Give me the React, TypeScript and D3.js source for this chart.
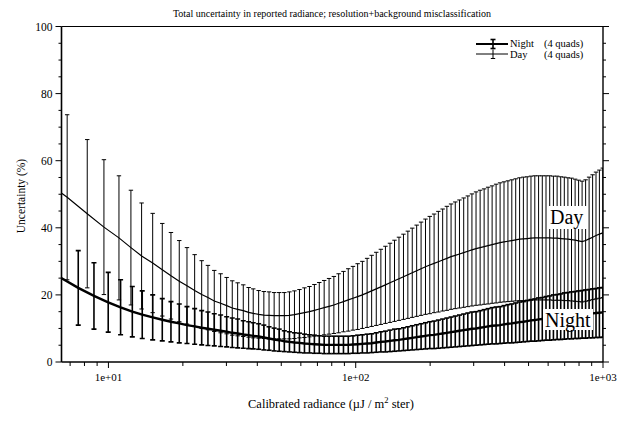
import React from "react";
import * as d3 from "d3";

const W = 623;
const H = 423;
const FONT = "Liberation Serif, DejaVu Serif, serif";

// Radiance sample points (µJ / m² ster). The first few Day and Night points are
// staggered; from ~15 onward both series share the same grid.
const dayLeadX = [5.42, 6.81, 8.21, 9.59, 11.03, 12.33, 13.62];
const nightLeadX = [6.32, 7.55, 8.74, 9.98, 11.2, 12.49, 13.7];
const sharedX = [
  15.1, 16.51, 17.9, 19.34, 20.78, 22.32, 23.83, 25.26, 26.79, 28.43, 30.07, 31.68, 33.31, 35.1, 36.9, 38.51, 40.5,
  42.51, 44.62, 46.79, 49.06, 51.44, 53.95, 56.53, 59.23, 62.05, 65.01,
  68.06, 71.23, 74.55, 78.03, 81.59, 85.31, 89.23, 93.3, 97.47, 101.8,
  106.4, 111.2, 116.0, 121.1, 126.4, 131.9, 137.6, 143.5, 149.6, 156.0,
  162.5, 169.3, 176.4, 183.8, 191.5, 199.3, 207.5, 215.9, 224.7, 233.7,
  243.0, 252.7, 262.8, 273.3, 284.0, 295.1, 306.6, 318.5, 330.6, 343.1,
  356.1, 369.6, 383.6, 397.8, 412.6, 427.8, 443.6, 459.9, 476.5, 493.6,
  511.4, 529.9, 548.9, 568.2, 588.2, 608.8, 630.2, 652.3, 674.5, 697.5,
  721.2, 745.8, 771.3, 796.8, 823.2, 850.6, 878.6, 907.8, 937.0, 967.0, 998.0,
];

// Day (4 quads): uncertainty (%) and its error half-width
const dayValues = [
  54.5, 49.1, 44.2, 40.2, 37.0, 34.1, 31.6,
  29.5, 27.5, 25.7, 24.1, 22.7, 21.3, 20.1, 19.2, 18.2, 17.5, 16.8, 16.1, 15.7, 15.3, 14.8, 14.5, 14.2,
  14.0, 13.9, 13.8, 13.8, 13.8, 13.9, 14.1, 14.4, 14.7, 15.0,
  15.4, 15.8, 16.2, 16.6, 17.0, 17.5, 18.0, 18.5, 19.0, 19.5,
  20.0, 20.6, 21.2, 21.8, 22.4, 23.0, 23.6, 24.2, 24.8, 25.4,
  26.0, 26.6, 27.2, 27.8, 28.4, 28.9, 29.4, 29.9, 30.4, 30.9,
  31.4, 31.8, 32.2, 32.6, 33.0, 33.4, 33.8, 34.1, 34.4, 34.7,
  35.0, 35.3, 35.6, 35.8, 36.0, 36.2, 36.4, 36.6, 36.7, 36.8,
  36.9, 37.0, 37.0, 37.0, 37.0, 37.0, 36.9, 36.9, 36.8, 36.7,
  36.6, 36.5, 36.3, 36.1, 35.9, 36.2, 36.7, 37.2, 37.7, 38.1, 38.5,
];
const dayErrors = [
  27.3, 24.6, 22.1, 20.1, 18.5, 17.1, 15.8,
  14.8, 13.8, 12.9, 12.1, 11.4, 10.7, 10.1, 9.6, 9.1, 8.8, 8.4, 8.1, 7.9, 7.7, 7.4, 7.3, 7.1,
  7.0, 7.0, 6.9, 6.9, 6.9, 7.0, 7.1, 7.2, 7.4, 7.5,
  7.7, 7.9, 8.1, 8.3, 8.5, 8.8, 9.0, 9.3, 9.5, 9.8,
  10.0, 10.3, 10.6, 10.9, 11.2, 11.5, 11.8, 12.1, 12.4, 12.7,
  13.0, 13.3, 13.6, 13.9, 14.2, 14.5, 14.7, 15.0, 15.2, 15.5,
  15.7, 15.9, 16.1, 16.3, 16.5, 16.7, 16.9, 17.1, 17.2, 17.4,
  17.5, 17.7, 17.8, 17.9, 18.0, 18.1, 18.2, 18.3, 18.4, 18.4,
  18.5, 18.5, 18.5, 18.5, 18.5, 18.5, 18.5, 18.5, 18.4, 18.4,
  18.3, 18.3, 18.2, 18.1, 18.0, 18.1, 18.4, 18.6, 18.9, 19.1, 19.3,
];

// Night (4 quads): uncertainty (%) and its error half-width
const nightValues = [
  25.4, 22.1, 19.7, 17.8, 16.3, 15.0, 14.1,
  13.3, 12.6, 12.0, 11.5, 11.0, 10.6, 10.2, 9.9, 9.6, 9.3, 9.0, 8.7, 8.5, 8.2, 8.0, 7.8, 7.6,
  7.3, 7.0, 6.7, 6.5, 6.2, 6.0, 5.8, 5.7, 5.5, 5.4,
  5.3, 5.2, 5.1, 5.1, 5.1, 5.1, 5.1, 5.1, 5.2, 5.3,
  5.4, 5.5, 5.6, 5.8, 6.0, 6.1, 6.3, 6.5, 6.6, 6.8,
  7.0, 7.2, 7.4, 7.6, 7.8, 8.0, 8.1, 8.3, 8.5, 8.7,
  8.9, 9.1, 9.3, 9.5, 9.7, 9.9, 10.0, 10.2, 10.4, 10.6,
  10.8, 10.9, 11.0, 11.2, 11.4, 11.5, 11.7, 11.9, 12.0, 12.2,
  12.4, 12.5, 12.7, 12.8, 13.0, 13.1, 13.3, 13.4, 13.5, 13.7,
  13.8, 13.9, 14.0, 14.1, 14.2, 14.3, 14.4, 14.5, 14.6, 14.7, 14.8,
];
const nightErrors = [
  12.7, 11.1, 9.9, 8.9, 8.2, 7.5, 7.1,
  6.7, 6.3, 6.0, 5.8, 5.5, 5.3, 5.1, 5.0, 4.8, 4.7, 4.5, 4.4, 4.3, 4.1, 4.0, 3.9, 3.8,
  3.7, 3.5, 3.4, 3.3, 3.1, 3.0, 2.9, 2.9, 2.8, 2.7,
  2.7, 2.6, 2.6, 2.6, 2.6, 2.6, 2.6, 2.6, 2.6, 2.7,
  2.7, 2.8, 2.8, 2.9, 3.0, 3.1, 3.2, 3.3, 3.3, 3.4,
  3.5, 3.6, 3.7, 3.8, 3.9, 4.0, 4.1, 4.2, 4.3, 4.4,
  4.5, 4.6, 4.7, 4.8, 4.9, 5.0, 5.0, 5.1, 5.2, 5.3,
  5.4, 5.5, 5.5, 5.6, 5.7, 5.8, 5.9, 6.0, 6.0, 6.1,
  6.2, 6.3, 6.4, 6.4, 6.5, 6.6, 6.7, 6.7, 6.8, 6.9,
  6.9, 7.0, 7.0, 7.1, 7.1, 7.2, 7.2, 7.3, 7.3, 7.4, 7.4,
];

const yTickValues = [0, 20, 40, 60, 80, 100];
const xTickValues = [10, 100, 1000];
const xTickLabels = ["1e+01", "1e+02", "1e+03"];

const TITLE = "Total uncertainty in reported radiance; resolution+background misclassification";

type Pt = { x: number; v: number; e: number };

const plot = { left: 61.5, right: 603, top: 26.5, bottom: 362 };

export default function App() {
  const x = d3.scaleLog().domain([6.46, 1000]).range([plot.left, plot.right]);
  const y = d3.scaleLinear().domain([0, 100]).range([plot.bottom, plot.top]);

  const dayX = dayLeadX.concat(sharedX);
  const nightX = nightLeadX.concat(sharedX);
  const day: Pt[] = dayX.map((d, i) => ({ x: d, v: dayValues[i], e: dayErrors[i] }));
  const night: Pt[] = nightX.map((d, i) => ({ x: d, v: nightValues[i], e: nightErrors[i] }));

  const line = d3
    .line<Pt>()
    .x((d) => x(d.x))
    .y((d) => y(d.v))
    .curve(d3.curveLinear);

  const yMinor = d3.range(0, 101, 5);
  const xMinor: number[] = [];
  for (const dec of [1, 10, 100]) {
    for (let k = 2; k <= 9; k++) {
      const v = k * dec;
      if (v >= 6.46 && v <= 1000) xMinor.push(v);
    }
  }

  const errorBars = (data: Pt[], cap: number, sw: number, key: string) =>
    data.map((d, i) => {
      const cx = x(d.x);
      const y1 = y(d.v + d.e);
      const y0 = y(d.v - d.e);
      return (
        <g key={key + i} stroke="#000" strokeWidth={sw}>
          <line x1={cx} x2={cx} y1={y1} y2={y0} />
          <line x1={cx - cap} x2={cx + cap} y1={y1} y2={y1} />
          <line x1={cx - cap} x2={cx + cap} y1={y0} y2={y0} />
        </g>
      );
    });

  const txt = { fontFamily: FONT };

  return (
    <svg
      width={W}
      height={H}
      viewBox={`0 0 ${W} ${H}`}
      style={{ position: "absolute", left: 0, top: 0, background: "#fff", fontFamily: FONT }}
    >
      <defs>
        <clipPath id="plot-clip">
          <rect x={plot.left} y={plot.top} width={plot.right - plot.left} height={plot.bottom - plot.top} />
        </clipPath>
      </defs>
      <rect x={0} y={0} width={W} height={H} fill="#fff" />

      {/* title */}
      <text x={332} y={17} fontSize={10} textAnchor="middle" fill="#000" style={txt}>
        {TITLE}
      </text>

      {/* data */}
      <g clipPath="url(#plot-clip)">
        {errorBars(day, 2.2, 1, "d")}
        {errorBars(night, 2.5, 1.6, "n")}
        <path d={line(day) ?? ""} fill="none" stroke="#000" strokeWidth={1.2} />
        <path d={line(night) ?? ""} fill="none" stroke="#000" strokeWidth={2.4} />
      </g>

      {/* frame */}
      <g stroke="#000" fill="none">
        <line x1={plot.left} x2={plot.right} y1={plot.top} y2={plot.top} strokeWidth={1} />
        <line x1={plot.right} x2={plot.right} y1={plot.top} y2={plot.bottom} strokeWidth={1.4} />
        <line x1={plot.left} x2={plot.left} y1={plot.top} y2={plot.bottom} strokeWidth={1.6} />
        <line x1={plot.left} x2={plot.right} y1={plot.bottom} y2={plot.bottom} strokeWidth={1.4} />
      </g>

      {/* y axis ticks (left and right) */}
      <g stroke="#000" strokeWidth={1}>
        {yMinor.map((v) => {
          const major = v % 20 === 0;
          const len = major ? 6 : 3;
          return (
            <g key={"yt" + v}>
              <line x1={plot.left - len} x2={plot.left} y1={y(v)} y2={y(v)} />
              <line x1={plot.right} x2={plot.right + len} y1={y(v)} y2={y(v)} />
            </g>
          );
        })}
      </g>
      <g fontSize={11.5} textAnchor="end" fill="#000" style={txt}>
        {yTickValues.map((v) => (
          <text key={"yl" + v} x={plot.left - 9} y={y(v) + 4}>
            {v}
          </text>
        ))}
      </g>

      {/* x axis ticks */}
      <g stroke="#000" strokeWidth={1}>
        {xMinor.map((v) => (
          <line key={"xm" + v} x1={x(v)} x2={x(v)} y1={plot.bottom} y2={plot.bottom + 4} />
        ))}
        {xTickValues.map((v) => (
          <line key={"xt" + v} x1={x(v)} x2={x(v)} y1={plot.bottom} y2={plot.bottom + 6} />
        ))}
      </g>
      <g fontSize={11} textAnchor="middle" fill="#000" style={txt}>
        {xTickValues.map((v, i) => (
          <text key={"xl" + v} x={x(v)} y={381}>
            {xTickLabels[i]}
          </text>
        ))}
      </g>

      {/* axis titles */}
      <text x={331} y={408} fontSize={12.5} textAnchor="middle" fill="#000" style={txt}>
        Calibrated radiance (µJ / m
        <tspan dy={-5} fontSize={8.5}>
          2
        </tspan>
        <tspan dy={5}> ster)</tspan>
      </text>
      <text
        transform="translate(25,196) rotate(-90)"
        fontSize={11.5}
        textAnchor="middle"
        fill="#000"
        style={txt}
      >
        Uncertainty (%)
      </text>

      {/* legend */}
      <g stroke="#000">
        <line x1={476} x2={508} y1={44} y2={44} strokeWidth={2} />
        <line x1={493} x2={493} y1={39.5} y2={48.5} strokeWidth={1.6} />
        <line x1={490.5} x2={495.5} y1={39.5} y2={39.5} strokeWidth={1.6} />
        <line x1={490.5} x2={495.5} y1={48.5} y2={48.5} strokeWidth={1.6} />
        <line x1={476} x2={508} y1={54} y2={54} strokeWidth={1} />
        <line x1={493} x2={493} y1={49.5} y2={58.5} strokeWidth={1} />
        <line x1={490.8} x2={495.2} y1={58.5} y2={58.5} strokeWidth={1} />
      </g>
      <g fontSize={10.5} fill="#000" style={txt}>
        <text x={510} y={46.5}>
          Night<tspan x={544}>(4 quads)</tspan>
        </text>
        <text x={510} y={58}>
          Day<tspan x={544}>(4 quads)</tspan>
        </text>
      </g>

      {/* series labels on white boxes */}
      <rect x={548} y={206} width={40} height={23} fill="#fff" />
      <text x={550} y={224} fontSize={20} fill="#000" style={txt}>
        Day
      </text>
      <rect x={543} y={309} width={50} height={21} fill="#fff" />
      <text x={545} y={327} fontSize={20} fill="#000" style={txt}>
        Night
      </text>
    </svg>
  );
}
